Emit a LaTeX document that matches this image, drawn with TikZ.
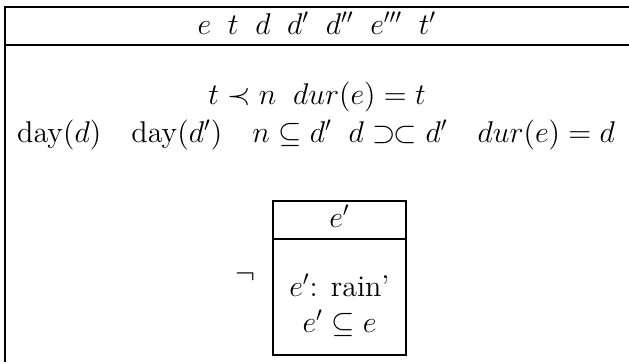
\documentclass[tikz,border=0pt]{standalone}
\usepackage{amssymb}
\begin{document}
\begin{tikzpicture}[x=0.48pt,y=-0.48pt,
  lbl/.style={inner sep=0pt,anchor=base,font=\fontsize{14.4}{17}\selectfont},
  rule/.style={line width=0.55pt}]
\useasboundingbox (0,0) rectangle (629,362);
% outer box
\coordinate (otl) at (5,7);
\coordinate (otr) at (629,7);
\coordinate (obl) at (5,362);
\coordinate (odl) at (5,45);
\coordinate (odr) at (629,45);
\draw[rule] (otr) -- (otl) -- (obl);
\draw[rule] (odl) -- (odr);
\node[lbl] (hdr) at (317,34) {$e\;\;t\;\;d\;\;d'\;\;d''\;\;e'''\;\;t'$};
\node[lbl] (c1) at (317,104) {$t \prec n\;\; dur(e) = t$};
\node[lbl] (c2) at (316,142) {$\mathrm{day}(d)\quad \mathrm{day}(d')\quad n \subseteq d'\;\; d \mathrel{\supset\mkern-1mu\subset} d'\quad dur(e) = d$};
% inner box
\node[draw,rule,minimum width=133*0.48pt,minimum height=154*0.48pt,inner sep=0pt] (ib) at (339.5,278) {};
\coordinate (idl) at (273,239);
\coordinate (idr) at (406,239);
\draw[rule] (idl) -- (idr);
\node[lbl] (ih) at (339.5,227) {$e'$};
\node[lbl] (i1) at (339.5,296) {$e'$: rain'};
\node[lbl] (i2) at (339.5,332) {$e' \subseteq e$};
\node[lbl] (neg) at (245,283) {$\neg$};
\end{tikzpicture}
\end{document}
